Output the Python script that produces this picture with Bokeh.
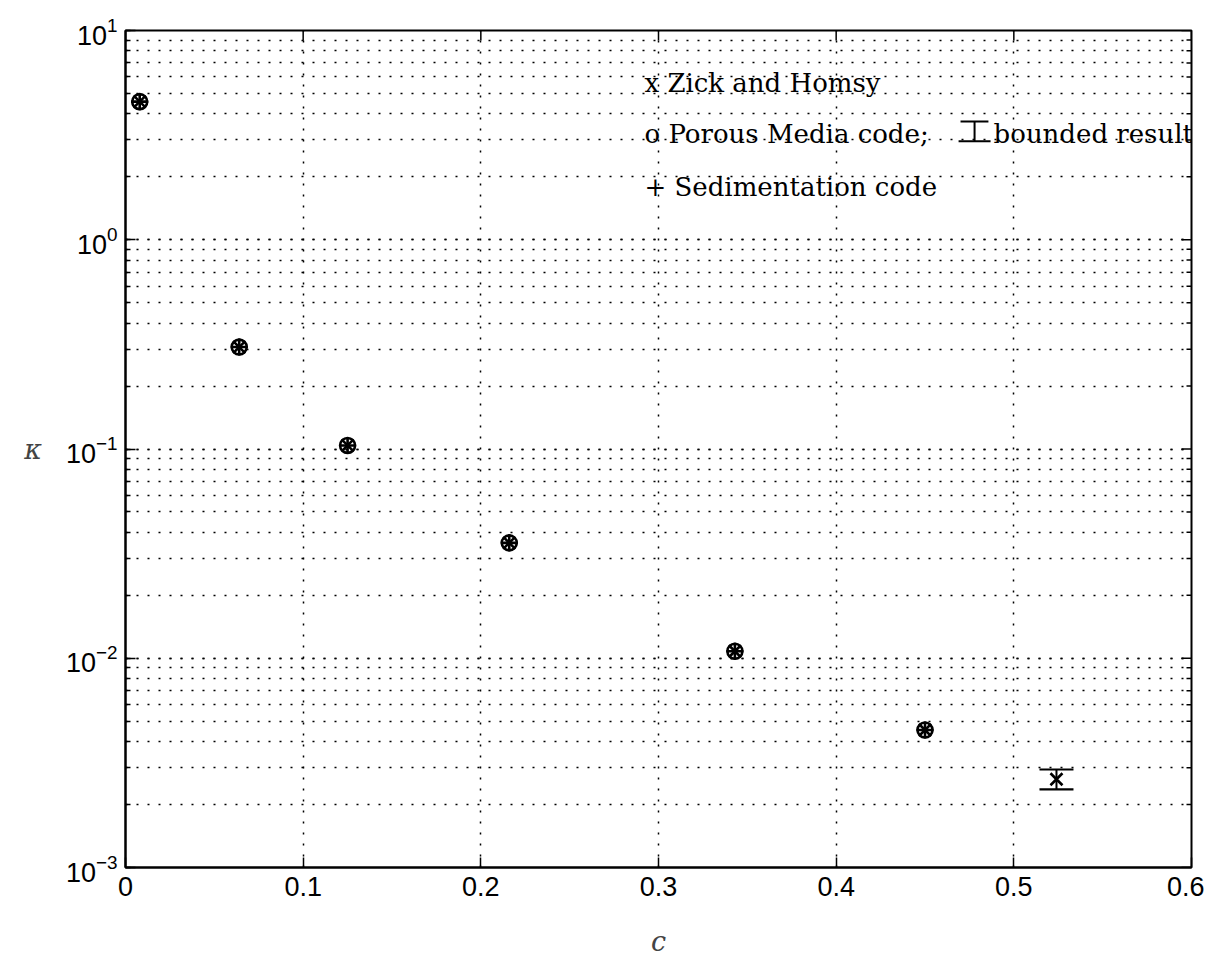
import math
from bokeh.plotting import figure
from bokeh.models import Range1d, Whisker, ColumnDataSource, TeeHead, FixedTicker, LogTicker
from bokeh.core.properties import value
from bokeh.embed import file_html
from bokeh.resources import INLINE

# ---- data ----
c_sim = [0.008, 0.064, 0.125, 0.216, 0.343, 0.450]
kappa_porous = [4.57, 0.307, 0.104, 0.0356, 0.0108, 0.00454]
kappa_sed = [4.57, 0.307, 0.104, 0.0356, 0.0108, 0.00454]
c_zick = [0.008, 0.064, 0.125, 0.216, 0.343, 0.450, 0.524]
kappa_zick = [4.57, 0.307, 0.104, 0.0356, 0.0108, 0.00454, 0.00264]
c_bounded = [0.524]
kappa_bounded_low = [0.00236]
kappa_bounded_high = [0.00294]

x_ticks = [0, 0.1, 0.2, 0.3, 0.4, 0.5, 0.6]
x_tick_labels = ["0", "0.1", "0.2", "0.3", "0.4", "0.5", "0.6"]
y_decades = [1e-3, 1e-2, 1e-1, 1e0, 1e1]

legend_texts = ["x Zick and Homsy", "o Porous Media code;", "+ Sedimentation code"]
legend_x = [0.2921, 0.2921, 0.2921]
legend_y = [5.61, 3.19, 1.79]
legend_extra_text = ["bounded result"]
legend_extra_x = [0.4886]
legend_extra_y = [3.19]

X0, X1 = 0.0, 0.6
Y0, Y1 = 1e-3, 1e1

# ---- figure ----
p = figure(width=1204, height=959, y_axis_type="log",
           x_range=Range1d(X0, X1), y_range=Range1d(Y0, Y1),
           output_backend="svg", toolbar_location=None,
           min_border_left=125, min_border_right=13,
           min_border_top=30, min_border_bottom=83)
p.background_fill_color = "white"
p.border_fill_color = "white"
p.outline_line_color = "black"
p.outline_line_width = 2

tick_font = "Liberation Sans"
tick_size = "27px"

# bottom x axis
xa = p.xaxis[0]
xa.ticker = FixedTicker(ticks=x_ticks)
xa.major_label_overrides = {t: l for t, l in zip(x_ticks, x_tick_labels)}
xa.major_tick_in = 10
xa.major_tick_out = 0
xa.minor_tick_in = 0
xa.minor_tick_out = 0
xa.axis_line_color = "black"
xa.axis_line_width = 2
xa.major_tick_line_width = 1.5
xa.major_label_text_font = tick_font
xa.major_label_text_font_size = tick_size
xa.major_label_text_color = "black"
xa.major_label_standoff = 9
xa.axis_label = "c"
xa.axis_label_text_font = "DejaVu Serif"
xa.axis_label_text_font_style = "italic"
xa.axis_label_text_font_size = "27px"
xa.axis_label_standoff = 27

# left y axis
ya = p.yaxis[0]
ya.ticker = LogTicker(num_minor_ticks=10, desired_num_ticks=5)
ya.major_tick_in = 10
ya.major_tick_out = 0
ya.minor_tick_in = 5
ya.minor_tick_out = 0
ya.axis_line_color = "black"
ya.axis_line_width = 2
ya.major_tick_line_width = 1.5
ya.minor_tick_line_width = 1.5
ya.major_label_text_font = tick_font
ya.major_label_text_font_size = tick_size
ya.major_label_text_color = "black"
ya.major_label_standoff = 8
ya.axis_label = "κ"
ya.axis_label_text_font = "DejaVu Serif"
ya.axis_label_text_font_style = "italic"
ya.axis_label_text_font_size = "27px"
ya.axis_label_standoff = 21
ya.axis_label_orientation = "horizontal"

# grids
p.xgrid.ticker = FixedTicker(ticks=x_ticks)
p.xgrid.grid_line_color = "black"
p.xgrid.grid_line_dash = "2 9"
p.xgrid.grid_line_width = 1.5
p.ygrid.grid_line_color = "black"
p.ygrid.grid_line_dash = "2 9"
p.ygrid.grid_line_width = 1.5
p.ygrid.minor_grid_line_color = "black"
p.ygrid.minor_grid_line_dash = "2 9"
p.ygrid.minor_grid_line_width = 1.5

# inward ticks on the top and right frame edges
minor_y = [k * d for d in y_decades[:-1] for k in range(2, 10)]
p.ray(x=[X1] * len(minor_y), y=minor_y, length=5, length_units="screen", angle=math.pi,
      line_color="black", line_width=1.5)
p.ray(x=[X1] * len(y_decades), y=y_decades, length=10, length_units="screen", angle=math.pi,
      line_color="black", line_width=1.5)
p.ray(x=x_ticks, y=[Y1] * len(x_ticks), length=10, length_units="screen", angle=-math.pi / 2,
      line_color="black", line_width=1.5)

# markers
p.scatter(c_sim, kappa_porous, marker="circle", size=15, fill_color=None,
          line_color="black", line_width=2.6)
p.scatter(c_sim, kappa_sed, marker="cross", size=17, line_color="black", line_width=2.6)
p.scatter(c_zick, kappa_zick, marker="x", size=17, line_color="black", line_width=2.6)

# bounded result error bar
src = ColumnDataSource(dict(base=c_bounded, lower=kappa_bounded_low, upper=kappa_bounded_high))
w = Whisker(source=src, base="base", lower="lower", upper="upper", dimension="height",
            line_color="black", line_width=2,
            upper_head=TeeHead(size=34, line_color="black", line_width=2.2),
            lower_head=TeeHead(size=34, line_color="black", line_width=2.2))
p.add_layout(w)

# legend text
serif = value("DejaVu Serif")
p.text(legend_x, legend_y, text=legend_texts, text_font=serif, text_font_size="26px",
       text_baseline="middle", text_align="left", text_color="black")
p.text(legend_extra_x, legend_extra_y, text=legend_extra_text, text_font=serif,
       text_font_size="26px", text_baseline="middle", text_align="left", text_color="black")

# legend error-bar symbol (I-beam)
sym_x0 = [0.4700, 0.4779, 0.4689]
sym_x1 = [0.4857, 0.4779, 0.4869]
sym_y0 = [3.67, 3.67, 2.953]
sym_y1 = [3.67, 2.953, 2.953]
p.segment(sym_x0, sym_y0, sym_x1, sym_y1, line_color="black", line_width=2)

open("out.html", "w").write(file_html(p, INLINE))
